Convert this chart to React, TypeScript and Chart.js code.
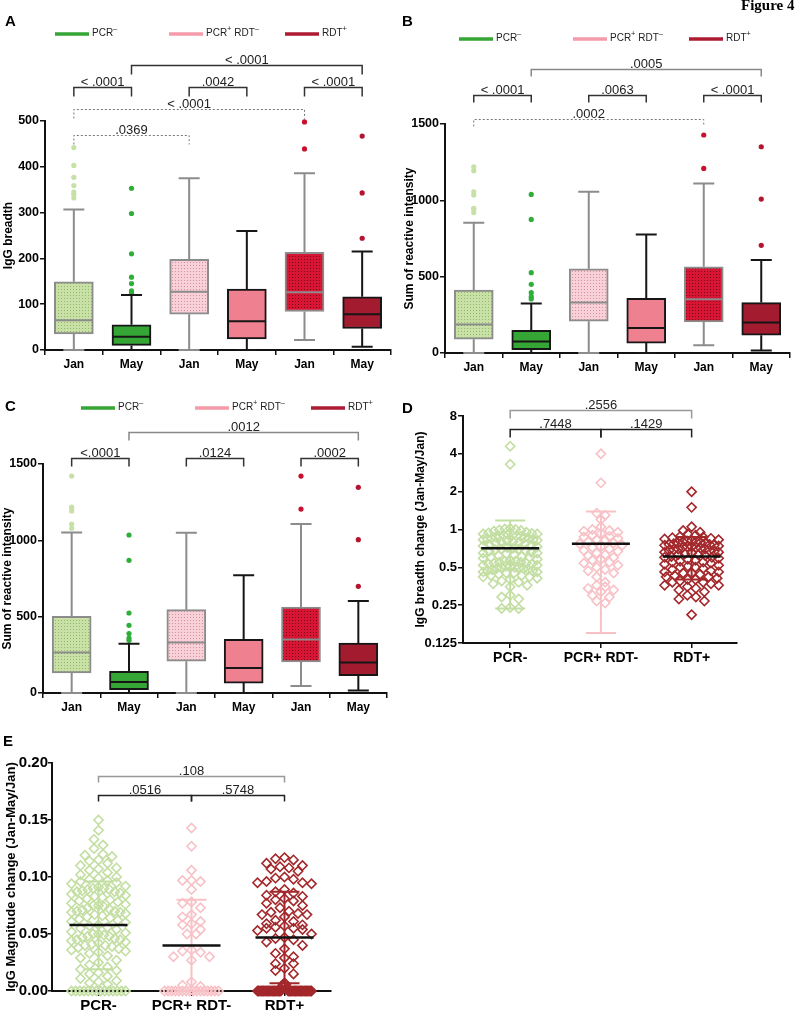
import React, { useEffect, useRef } from 'react';
import { Chart, registerables } from 'chart.js';

Chart.register(...registerables);

const FONT = "'Liberation Sans', Arial, Helvetica, sans-serif";

// ---------------- Panels A–C (box plots) ----------------
const BOX_LABELS = ['Jan', 'May', 'Jan', 'May', 'Jan', 'May'];

const A_MIN = [0, 0, 0, 0, 22, 7];
const A_Q1 = [35, 10, 78, 24, 84, 47];
const A_MED = [65, 29, 127, 63, 126, 78];
const A_Q3 = [149, 55, 198, 133, 213, 116];
const A_MAX = [307, 120, 375, 260, 386, 215];
const A_OUTLIERS = [[442, 403, 377, 359, 345, 340, 332], [353, 298, 210, 159, 145, 129, 124], [], [], [498, 439], [467, 343, 244]];

const B_MIN = [0, 0, 0, 0, 50, 16];
const B_Q1 = [90, 22, 208, 65, 203, 116];
const B_MED = [186, 75, 330, 164, 352, 199];
const B_Q3 = [412, 149, 552, 358, 565, 330];
const B_MAX = [853, 325, 1056, 777, 1110, 609];
const B_OUTLIERS = [[1220, 1194, 1056, 1035, 948, 943, 920], [1039, 875, 526, 450, 395, 369, 354], [], [], [1428, 1209], [1351, 1008, 705]];

const C_MIN = [0, 0, 0, 0, 46, 16];
const C_Q1 = [131, 22, 208, 65, 203, 114];
const C_MED = [265, 72, 330, 164, 350, 199];
const C_Q3 = [502, 142, 546, 352, 563, 327];
const C_MAX = [1052, 323, 1050, 771, 1107, 602];
const C_OUTLIERS = [[1421, 1218, 1212, 1192, 1107, 1079], [1035, 869, 524, 443, 389, 360, 345], [], [], [1421, 1205], [1347, 1004, 699]];

const BOX_FILL = ['#c9e1a6', '#35a535', '#f8d0d7', '#ef8090', '#d81534', '#a31b2f'];
const BOX_DOT = ['#8fb868', '', '#d8909e', '', '#7a0818', ''];
const BOX_EDGE = ['#8c8c8c', '#161616', '#8c8c8c', '#161616', '#8c8c8c', '#161616'];
const OUTLIER_COLOR = ['#c6e0a6', '#2fae3a', '#f3a9b5', '#ef8090', '#c8102e', '#b3142f'];

const LEGEND_ITEMS: [string, boolean][][] = [
  [['PCR', false], ['–', true]],
  [['PCR', false], ['+', true], [' RDT', false], ['–', true]],
  [['RDT', false], ['+', true]],
];
const LEGEND_COLORS = ['#35a535', '#f49aa8', '#ae1a31'];

const A_BRACKETS = [
  { from: 1, to: 5, y: 622, label: '< .0001', color: '#333' },
  { from: 0, to: 1, y: 575, label: '< .0001', color: '#333' },
  { from: 2, to: 3, y: 575, label: '.0042', color: '#333' },
  { from: 4, to: 5, y: 575, label: '< .0001', color: '#333' },
  { from: 0, to: 4, y: 526, label: '< .0001', color: '#777', dotted: true },
  { from: 0, to: 2, y: 469, label: '.0369', color: '#777', dotted: true },
];
const B_BRACKETS = [
  { from: 1, to: 5, y: 1860, label: '.0005', color: '#888' },
  { from: 0, to: 1, y: 1690, label: '< .0001', color: '#333' },
  { from: 2, to: 3, y: 1690, label: '.0063', color: '#333' },
  { from: 4, to: 5, y: 1690, label: '< .0001', color: '#333' },
  { from: 0, to: 4, y: 1532, label: '.0002', color: '#777', dotted: true },
];
const C_BRACKETS = [
  { from: 1, to: 5, y: 1707, label: '.0012', color: '#888' },
  { from: 0, to: 1, y: 1541, label: '<.0001', color: '#333' },
  { from: 2, to: 3, y: 1541, label: '.0124', color: '#333' },
  { from: 4, to: 5, y: 1541, label: '.0002', color: '#333' },
];

// ---------------- Panels D–E (dot plots) ----------------
const SWARM_LABELS = ['PCR-', 'PCR+ RDT-', 'RDT+'];
const SWARM_COLORS = ['#c3dea2', '#f7c1c6', '#a3282b'];

const D_TICKS = [0.125, 0.25, 0.5, 1, 2, 4, 8];
const D_PCRNEG = [4.6, 3.3,
  1.02, 1.0, 0.99, 0.98, 0.97, 1.01,
  0.95, 0.94, 0.93, 0.92, 0.92, 0.91, 0.9, 0.9, 0.89, 0.88, 0.88,
  0.87, 0.86, 0.85, 0.85, 0.84, 0.83, 0.83, 0.82, 0.81, 0.8, 0.8, 0.79,
  0.78, 0.77, 0.76, 0.75, 0.74, 0.73, 0.72, 0.71, 0.7, 0.7,
  0.69, 0.68, 0.67, 0.66, 0.65, 0.65, 0.64, 0.63, 0.62, 0.61, 0.6, 0.6,
  0.59, 0.58, 0.57, 0.56, 0.56, 0.55, 0.55, 0.54, 0.54, 0.53, 0.53, 0.52, 0.52, 0.51, 0.51, 0.5, 0.5, 0.5,
  0.49, 0.49, 0.48, 0.48, 0.47, 0.47, 0.46, 0.46, 0.45, 0.45,
  0.44, 0.43, 0.43, 0.42, 0.42, 0.41, 0.4, 0.39, 0.38, 0.37, 0.36, 0.35,
  0.3, 0.29, 0.28, 0.24, 0.235, 0.235];
const D_PCRPOS = [4.0, 2.35, 1.35, 1.3, 1.2, 1.05, 1.0, 0.98, 0.97, 0.95, 0.93, 0.9, 0.88, 0.87, 0.85,
  0.83, 0.82, 0.8, 0.78, 0.77, 0.75, 0.73, 0.72, 0.7, 0.68, 0.67, 0.65, 0.63, 0.62, 0.6, 0.58, 0.57,
  0.55, 0.54, 0.52, 0.5, 0.48, 0.47, 0.45, 0.42, 0.38, 0.36, 0.35, 0.34, 0.33, 0.32, 0.3, 0.29, 0.27, 0.26];
const D_RDTPOS = [2.0, 1.5, 1.05, 0.98, 0.95, 0.92, 0.9, 0.88, 0.87, 0.86, 0.85, 0.84, 0.83, 0.82, 0.81,
  0.8, 0.8, 0.79, 0.78, 0.78, 0.77, 0.76, 0.76, 0.75, 0.75, 0.74, 0.73, 0.73, 0.72, 0.72, 0.71, 0.7, 0.7,
  0.69, 0.68, 0.68, 0.67, 0.66, 0.66, 0.65, 0.64, 0.63, 0.63, 0.62, 0.61, 0.6, 0.6, 0.59, 0.58, 0.57,
  0.56, 0.55, 0.55, 0.54, 0.53, 0.52, 0.51, 0.5, 0.5, 0.49, 0.48, 0.47, 0.46, 0.46, 0.45, 0.45, 0.44,
  0.43, 0.42, 0.42, 0.41, 0.4, 0.4, 0.39, 0.38, 0.38, 0.37, 0.36, 0.36, 0.35, 0.34, 0.33, 0.32, 0.3,
  0.29, 0.28, 0.27, 0.21];
const D_MEAN = [0.71, 0.77, 0.61];
const D_SD_LO = [0.235, 0.15, 0.4];
const D_SD_HI = [1.18, 1.39, 0.87];
const D_BRACKETS = [
  { from: 1, to: 3, y: 9.0, label: '.2556', color: '#999' },
  { from: 1, to: 2, y: 6.36, label: '.7448', color: '#222' },
  { from: 2, to: 3, y: 6.36, label: '.1429', color: '#222' },
];

const E_TICKS = [0, 0.05, 0.1, 0.15, 0.2];
const E_PCRNEG = [0, 0, 0, 0, 0, 0, 0, 0, 0, 0, 0, 0, 0, 0,
  0.150, 0.141, 0.133, 0.128, 0.125, 0.120, 0.119, 0.118, 0.115, 0.114, 0.112, 0.110, 0.108, 0.107,
  0.106, 0.104, 0.102, 0.100, 0.099, 0.098, 0.097, 0.096, 0.095, 0.094, 0.092, 0.091, 0.090, 0.090,
  0.089, 0.089, 0.088, 0.087, 0.087, 0.086, 0.085, 0.084, 0.083, 0.082, 0.081, 0.080, 0.079, 0.078,
  0.077, 0.076, 0.075, 0.075, 0.074, 0.073, 0.072, 0.071, 0.070, 0.070, 0.069, 0.069, 0.068, 0.067,
  0.066, 0.065, 0.064, 0.063, 0.062, 0.061, 0.060, 0.058, 0.057, 0.056, 0.055, 0.054, 0.052, 0.051,
  0.050, 0.050, 0.049, 0.048, 0.048, 0.047, 0.046, 0.045, 0.045, 0.044, 0.043, 0.042, 0.041, 0.040,
  0.040, 0.039, 0.038, 0.037, 0.036, 0.035, 0.034, 0.033, 0.031, 0.029, 0.027, 0.025, 0.023, 0.021,
  0.019, 0.018, 0.016, 0.015, 0.013, 0.011, 0.009, 0.008, 0.007, 0.006];
const E_PCRPOS = [0, 0, 0, 0, 0, 0, 0, 0, 0, 0, 0, 0, 0, 0, 0, 0,
  0.143, 0.127, 0.106, 0.097, 0.096, 0.097, 0.089, 0.078, 0.077, 0.073, 0.067, 0.065, 0.061, 0.059,
  0.058, 0.054, 0.050, 0.050, 0.036, 0.035, 0.034, 0.030, 0.030, 0.027, 0.008, 0.005, 0.004];
const E_RDTPOS = [0, 0, 0, 0, 0, 0, 0, 0, 0, 0, 0, 0, 0, 0, 0, 0, 0, 0, 0, 0,
  0, 0, 0, 0, 0, 0, 0, 0, 0, 0, 0, 0, 0, 0, 0, 0, 0, 0, 0, 0,
  0.117, 0.116, 0.115, 0.112, 0.110, 0.109, 0.108, 0.107, 0.105, 0.100, 0.099, 0.098, 0.096, 0.095,
  0.095, 0.094, 0.089, 0.087, 0.086, 0.084, 0.083, 0.081, 0.080, 0.079, 0.077, 0.075, 0.073, 0.070,
  0.069, 0.068, 0.067, 0.067, 0.065, 0.062, 0.061, 0.059, 0.058, 0.057, 0.056, 0.055, 0.055, 0.054,
  0.053, 0.050, 0.047, 0.046, 0.045, 0.043, 0.040, 0.037, 0.033, 0.030, 0.029, 0.024, 0.024, 0.020,
  0.018, 0.015, 0.007, 0.006, 0.006, 0.004, 0.003];
const E_MEAN = [0.058, 0.040, 0.047];
const E_SD_LO = [0.019, 0, 0.0067];
const E_SD_HI = [0.096, 0.080, 0.087];
const E_BRACKETS = [
  { from: 1, to: 3, y: 0.1889, label: '.108', color: '#999' },
  { from: 1, to: 2, y: 0.172, label: '.0516', color: '#222' },
  { from: 2, to: 3, y: 0.172, label: '.5748', color: '#222' },
];

// ---------------- layout of the canvases ----------------
const PANEL_A = { left: 0, top: 0, w: 400, h: 380, pad: { left: 1, top: 121, right: 9, bottom: 5 }, yW: 44, xH: 25 };
const PANEL_B = { left: 400, top: 0, w: 400, h: 380, pad: { left: 2, top: 124, right: 10, bottom: 2 }, yW: 43, xH: 25 };
const PANEL_C = { left: 0, top: 385, w: 400, h: 340, pad: { left: 0, top: 79, right: 13, bottom: 7 }, yW: 43, xH: 25 };
const PANEL_D = { left: 400, top: 385, w: 400, h: 300, pad: { left: 13, top: 31, right: 63, bottom: 12 }, yW: 50, xH: 30 };
const PANEL_E = { left: 0, top: 725, w: 400, h: 286, pad: { left: 4, top: 38, right: 69, bottom: 0 }, yW: 48, xH: 20 };

// ---------------- helpers ----------------
function makePattern(ctx: CanvasRenderingContext2D, base: string, dot: string) {
  const c = document.createElement('canvas');
  c.width = 3; c.height = 3;
  const g = c.getContext('2d')!;
  g.fillStyle = base; g.fillRect(0, 0, 3, 3);
  g.fillStyle = dot; g.fillRect(1, 1, 1, 1);
  return ctx.createPattern(c, 'repeat');
}

function bracketPlugin(list: any[], drop: number) {
  return {
    id: 'brackets',
    afterDraw(chart: any) {
      const { ctx, scales: { x, y } } = chart;
      ctx.save();
      list.forEach((b) => {
        const x1 = x.getPixelForValue(b.from);
        const x2 = x.getPixelForValue(b.to);
        const yy = Math.round(y.getPixelForValue(b.y)) + 0.5;
        ctx.strokeStyle = b.color;
        ctx.lineWidth = b.dotted ? 1 : 1.5;
        ctx.setLineDash(b.dotted ? [2, 2] : []);
        ctx.beginPath();
        ctx.moveTo(x1, yy + drop); ctx.lineTo(x1, yy); ctx.lineTo(x2, yy); ctx.lineTo(x2, yy + drop);
        ctx.stroke();
        ctx.setLineDash([]);
        ctx.fillStyle = '#222';
        ctx.font = `13px ${FONT}`;
        ctx.textAlign = 'center';
        ctx.textBaseline = 'alphabetic';
        ctx.fillText(b.label, (x1 + x2) / 2, yy - 2);
      });
      ctx.restore();
    },
  };
}

function legendPlugin(offsets: number[], dy: number) {
  return {
    id: 'groupLegend',
    afterDraw(chart: any) {
      const { ctx, chartArea } = chart;
      const y0 = chartArea.top + dy;
      ctx.save();
      LEGEND_ITEMS.forEach((parts, k) => {
        const x0 = chartArea.left + offsets[k];
        ctx.strokeStyle = LEGEND_COLORS[k];
        ctx.lineWidth = 3.5;
        ctx.beginPath(); ctx.moveTo(x0, y0); ctx.lineTo(x0 + 34, y0); ctx.stroke();
        let tx = x0 + 37;
        ctx.fillStyle = '#222';
        ctx.textAlign = 'left';
        ctx.textBaseline = 'alphabetic';
        parts.forEach(([t, sup]) => {
          ctx.font = sup ? `7.5px ${FONT}` : `10px ${FONT}`;
          ctx.fillText(t, tx, sup ? y0 - 3.5 : y0 + 2);
          tx += ctx.measureText(t).width;
        });
      });
      ctx.restore();
    },
  };
}

function whiskerPlugin(s: any) {
  const CAP = 10.5, HALF = 19;
  return {
    id: 'whiskers',
    afterDatasetsDraw(chart: any) {
      const { ctx, scales: { x, y } } = chart;
      ctx.save();
      s.q1.forEach((_: number, i: number) => {
        const cx = x.getPixelForValue(i);
        const pMin = y.getPixelForValue(s.min[i]);
        const pQ1 = y.getPixelForValue(s.q1[i]);
        const pMed = y.getPixelForValue(s.med[i]);
        const pQ3 = y.getPixelForValue(s.q3[i]);
        const pMax = y.getPixelForValue(s.max[i]);
        ctx.strokeStyle = BOX_EDGE[i];
        ctx.lineWidth = 2;
        ctx.beginPath();
        ctx.moveTo(cx, pQ3); ctx.lineTo(cx, pMax);
        ctx.moveTo(cx - CAP, pMax); ctx.lineTo(cx + CAP, pMax);
        ctx.moveTo(cx, pQ1); ctx.lineTo(cx, pMin);
        ctx.moveTo(cx - CAP, pMin); ctx.lineTo(cx + CAP, pMin);
        ctx.moveTo(cx - HALF, pMed); ctx.lineTo(cx + HALF, pMed);
        ctx.stroke();
      });
      ctx.restore();
    },
  };
}

function meanSdPlugin(mean: number[], lo: number[], hi: number[]) {
  return {
    id: 'meanSd',
    afterDatasetsDraw(chart: any) {
      const { ctx, scales: { x, y } } = chart;
      ctx.save();
      mean.forEach((m, g) => {
        const cx = x.getPixelForValue(g + 1);
        const pLo = y.getPixelForValue(lo[g]);
        const pHi = y.getPixelForValue(hi[g]);
        ctx.strokeStyle = SWARM_COLORS[g];
        ctx.lineWidth = 2;
        ctx.beginPath();
        ctx.moveTo(cx, pLo); ctx.lineTo(cx, pHi);
        ctx.moveTo(cx - 15, pHi); ctx.lineTo(cx + 15, pHi);
        ctx.moveTo(cx - 15, pLo); ctx.lineTo(cx + 15, pLo);
        ctx.stroke();
        const pm = y.getPixelForValue(m);
        ctx.strokeStyle = '#111';
        ctx.lineWidth = 2.5;
        ctx.beginPath();
        ctx.moveTo(cx - 29, pm); ctx.lineTo(cx + 29, pm);
        ctx.stroke();
      });
      ctx.restore();
    },
  };
}

function axisStyle(size: number, tickLen: number, pad: number) {
  return {
    ticks: { font: { family: FONT, size, weight: 'bold' }, color: '#000', padding: pad, autoSkip: false, maxRotation: 0 },
    grid: { drawOnChartArea: false, drawTicks: true, tickLength: tickLen, color: '#111', lineWidth: 1.5 },
    border: { display: true, color: '#111', width: 2 },
  };
}

function boxChart(canvas: HTMLCanvasElement, p: any, s: any) {
  const ctx = canvas.getContext('2d')!;
  const fills = BOX_FILL.map((c, i) => (BOX_DOT[i] ? makePattern(ctx, c, BOX_DOT[i]) : c));
  const xs = axisStyle(12, 5, 2);
  const ys = axisStyle(12.5, 5, 1);
  return new Chart(canvas, {
    type: 'bar',
    data: {
      datasets: [
        {
          type: 'bar',
          data: s.q1.map((q: number, i: number) => ({ x: i, y: [q, s.q3[i]] })),
          backgroundColor: fills,
          borderColor: BOX_EDGE,
          borderWidth: 2,
          borderSkipped: false,
          barThickness: 39,
          order: 1,
        },
        ...s.out.map((vals: number[], i: number) => ({
          type: 'scatter',
          data: vals.map((v) => ({ x: i, y: v })),
          pointRadius: 2.6,
          pointBackgroundColor: OUTLIER_COLOR[i],
          pointBorderWidth: 0,
          order: 0,
          clip: false,
        })),
      ],
    } as any,
    options: {
      animation: false,
      responsive: false,
      layout: { padding: p.pad },
      plugins: { legend: { display: false }, tooltip: { enabled: false } },
      scales: {
        x: {
          type: 'linear', min: -0.5, max: 5.5, offset: false,
          ...xs,
          ticks: { ...xs.ticks, callback: (v: any) => BOX_LABELS[v] ?? '' },
          afterBuildTicks: (sc: any) => { sc.ticks = BOX_LABELS.map((_, i) => ({ value: i })); },
          afterFit: (sc: any) => { sc.height = p.xH; },
        },
        y: {
          type: 'linear', min: 0, max: s.ymax,
          ...ys,
          ticks: { ...ys.ticks, stepSize: s.step, callback: (v: any) => String(v) },
          title: { display: true, text: s.title, font: { family: FONT, size: 12, weight: 'bold' }, color: '#000', padding: { top: 0, bottom: 0 } },
          afterFit: (sc: any) => { sc.width = p.yW; },
        },
      },
    } as any,
    plugins: [whiskerPlugin(s), legendPlugin(s.legendX, s.legendDy), bracketPlugin(s.brackets, s.drop)],
  });
}

function applySwarm(chart: any, groups: number[][], ROW: number, STEP: number, HALF: number) {
  const xs = chart.scales.x, ys = chart.scales.y;
  const unit = xs.getPixelForValue(2) - xs.getPixelForValue(1);
  groups.forEach((vals, g) => {
    const items = vals.map((v) => ({ v, py: ys.getPixelForValue(v) })).sort((a, b) => a.py - b.py);
    const rows: any[][] = [];
    let cur: any[] = [];
    items.forEach((it) => {
      if (cur.length && it.py - cur[0].py > ROW) { rows.push(cur); cur = []; }
      cur.push(it);
    });
    if (cur.length) rows.push(cur);
    const pts: any[] = [];
    rows.forEach((row) => {
      const n = row.length;
      const step = n > 1 ? Math.min(STEP, (2 * HALF) / (n - 1)) : 0;
      const slots = row.map((_, k) => (k - (n - 1) / 2) * step);
      const order = slots.slice().sort((a, b) => Math.abs(a) - Math.abs(b) || a - b);
      row.forEach((it, k) => pts.push({ x: g + 1 + order[k] / unit, y: it.v }));
    });
    chart.data.datasets[g].data = pts;
  });
  chart.update('none');
}

function swarmChart(canvas: HTMLCanvasElement, p: any, s: any) {
  const xs = axisStyle(s.xFont, 5, s.xPad);
  const ys = axisStyle(s.yFont, s.yTick, s.yPad);
  const chart = new Chart(canvas, {
    type: 'scatter',
    data: {
      datasets: s.groups.map((vals: number[], g: number) => ({
        data: vals.map((v) => ({ x: g + 1, y: v })),
        pointStyle: 'rectRot',
        pointRadius: 4.6,
        pointBorderWidth: 1.6,
        pointBorderColor: SWARM_COLORS[g],
        pointBackgroundColor: 'rgba(0,0,0,0)',
        clip: false,
      })),
    },
    options: {
      animation: false,
      responsive: false,
      layout: { padding: p.pad },
      plugins: { legend: { display: false }, tooltip: { enabled: false } },
      scales: {
        x: {
          type: 'linear', min: s.xMin, max: s.xMax, offset: false,
          ...xs,
          ticks: { ...xs.ticks, callback: (v: any) => SWARM_LABELS[v - 1] ?? '' },
          afterBuildTicks: (sc: any) => { sc.ticks = SWARM_LABELS.map((_, i) => ({ value: i + 1 })); },
          afterFit: (sc: any) => { sc.height = p.xH; },
        },
        y: {
          type: s.yType, min: s.yMin, max: s.yMax,
          ...ys,
          ticks: { ...ys.ticks, callback: s.fmt },
          afterBuildTicks: (sc: any) => { sc.ticks = s.yTicks.map((v: number) => ({ value: v })); },
          title: { display: true, text: s.title, font: { family: FONT, size: s.titleSize, weight: 'bold' }, color: '#000', padding: { top: 0, bottom: 0 } },
          afterFit: (sc: any) => { sc.width = p.yW; },
        },
      },
    } as any,
    plugins: [meanSdPlugin(s.mean, s.lo, s.hi), bracketPlugin(s.brackets, s.drop)],
  });
  applySwarm(chart, s.groups, s.row, s.step, 27);
  return chart;
}

const SPEC_A = { min: A_MIN, q1: A_Q1, med: A_MED, q3: A_Q3, max: A_MAX, out: A_OUTLIERS, ymax: 500, step: 100, title: 'IgG breadth', legendX: [10, 124, 240], legendDy: -87, brackets: A_BRACKETS, drop: 9 };
const SPEC_B = { min: B_MIN, q1: B_Q1, med: B_MED, q3: B_Q3, max: B_MAX, out: B_OUTLIERS, ymax: 1500, step: 500, title: 'Sum of reactive intensity', legendX: [14, 128, 244], legendDy: -85, brackets: B_BRACKETS, drop: 7 };
const SPEC_C = { min: C_MIN, q1: C_Q1, med: C_MED, q3: C_Q3, max: C_MAX, out: C_OUTLIERS, ymax: 1500, step: 500, title: 'Sum of reactive intensity', legendX: [38, 152, 268], legendDy: -56, brackets: C_BRACKETS, drop: 8 };
const SPEC_D = {
  groups: [D_PCRNEG, D_PCRPOS, D_RDTPOS], mean: D_MEAN, lo: D_SD_LO, hi: D_SD_HI, brackets: D_BRACKETS, drop: 8,
  xMin: 0.48, xMax: 3.5, yType: 'logarithmic', yMin: 0.125, yMax: 8, yTicks: D_TICKS, fmt: (v: any) => String(v),
  title: 'IgG breadth change (Jan-May/Jan)', titleSize: 12, xFont: 14, xPad: 2, yFont: 13, yTick: 5, yPad: 1,
  row: 6, step: 8.5,
};
const SPEC_E = {
  groups: [E_PCRNEG, E_PCRPOS, E_RDTPOS], mean: E_MEAN, lo: E_SD_LO, hi: E_SD_HI, brackets: E_BRACKETS, drop: 6,
  xMin: 0.5, xMax: 3.5, yType: 'linear', yMin: 0, yMax: 0.2, yTicks: E_TICKS, fmt: (v: any) => Number(v).toFixed(2),
  title: 'IgG Magnitude change (Jan-May/Jan)', titleSize: 13, xFont: 15, xPad: 1, yFont: 15, yTick: 4, yPad: 0,
  row: 9, step: 9,
};

function ChartCanvas({ panel, build }: { panel: any; build: (c: HTMLCanvasElement) => Chart }) {
  const ref = useRef<HTMLCanvasElement>(null);
  useEffect(() => {
    const chart = build(ref.current!);
    return () => chart.destroy();
  }, []);
  return (
    <canvas
      ref={ref}
      width={panel.w}
      height={panel.h}
      style={{ position: 'absolute', left: panel.left, top: panel.top, width: panel.w, height: panel.h }}
    />
  );
}

const letter = (left: number, top: number): React.CSSProperties => ({
  position: 'absolute', left, top, font: `bold 15px ${FONT}`, lineHeight: '15px', color: '#000',
});

export default function App() {
  return (
    <div style={{ position: 'absolute', left: 0, top: 0, width: 800, height: 1011, background: '#fff', overflow: 'hidden' }}>
      <ChartCanvas panel={PANEL_A} build={(c) => boxChart(c, PANEL_A, SPEC_A)} />
      <ChartCanvas panel={PANEL_B} build={(c) => boxChart(c, PANEL_B, SPEC_B)} />
      <ChartCanvas panel={PANEL_C} build={(c) => boxChart(c, PANEL_C, SPEC_C)} />
      <ChartCanvas panel={PANEL_D} build={(c) => swarmChart(c, PANEL_D, SPEC_D)} />
      <ChartCanvas panel={PANEL_E} build={(c) => swarmChart(c, PANEL_E, SPEC_E)} />
      <div style={letter(5, 13)}>A</div>
      <div style={letter(402, 13)}>B</div>
      <div style={letter(5, 398)}>C</div>
      <div style={letter(402, 400)}>D</div>
      <div style={letter(3, 733)}>E</div>
      <div style={{ position: 'absolute', left: 741, top: -2, font: "bold 15px 'Liberation Serif', 'Times New Roman', serif", lineHeight: '15px', color: '#000' }}>
        Figure 4
      </div>
    </div>
  );
}
